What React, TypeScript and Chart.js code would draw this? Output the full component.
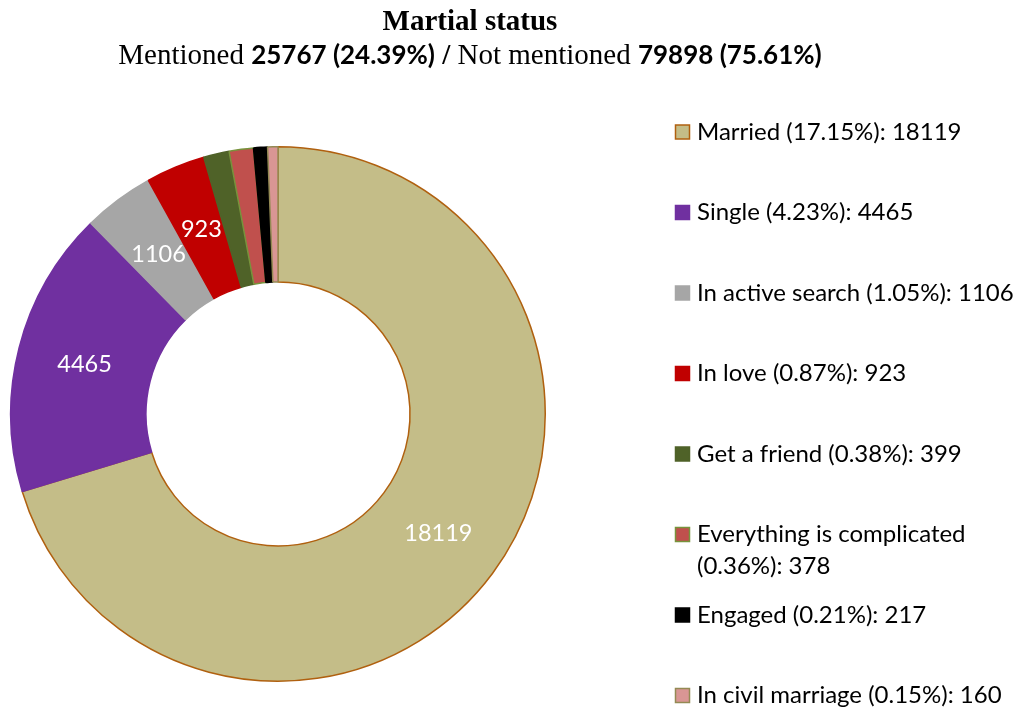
import React, { useEffect, useRef } from "react";
import { Chart, registerables } from "chart.js";

Chart.register(...registerables);

const categories = [
  "Married",
  "Single",
  "In active search",
  "In love",
  "Get a friend",
  "Everything is complicated",
  "Engaged",
  "In civil marriage",
];
const counts = [18119, 4465, 1106, 923, 399, 378, 217, 160];
const sharePercents = ["17.15%", "4.23%", "1.05%", "0.87%", "0.38%", "0.36%", "0.21%", "0.15%"];
const fillColors = ["#c4bd88", "#7030a0", "#a6a6a6", "#c00000", "#4f6228", "#c0504d", "#000000", "#d99694"];
const edgeColors = ["#b0600f", "#7030a0", "#a6a6a6", "#c00000", "#4f6228", "#77933c", "#000000", "#948a54"];
const titleText = "Martial status";
const mentionedText = "25767 (24.39%)";
const notMentionedText = "79898 (75.61%)";

const SERIF = "'Liberation Serif', 'Times New Roman', serif";
const SANS = "Lato, 'Open Sans', sans-serif";

const overlayPlugin = {
  id: "overlay",
  afterDraw(chart: any) {
    const ctx = chart.ctx as CanvasRenderingContext2D;
    const W = chart.width;
    ctx.save();
    // Title
    const cx = 470;
    ctx.fillStyle = "#000";
    ctx.textBaseline = "alphabetic";
    ctx.textAlign = "center";
    ctx.font = `bold 29px ${SERIF}`;
    ctx.fillText(titleText, cx, 30);
    // Subtitle (mixed fonts)
    const segs = [
      { t: "Mentioned ", f: `29px ${SERIF}` },
      { t: mentionedText, f: `bold 26px ${SANS}` },
      { t: " / ", f: `bold 29px ${SERIF}` },
      { t: "Not mentioned ", f: `29px ${SERIF}` },
      { t: notMentionedText, f: `bold 26px ${SANS}` },
    ];
    ctx.textAlign = "left";
    let total = 0;
    for (const s of segs) {
      ctx.font = s.f;
      total += ctx.measureText(s.t).width;
    }
    let x = cx - total / 2;
    for (const s of segs) {
      ctx.font = s.f;
      ctx.fillText(s.t, x, 64);
      x += ctx.measureText(s.t).width;
    }

    // Data labels
    const meta = chart.getDatasetMeta(0);
    const sum = counts.reduce((a, b) => a + b, 0);
    ctx.font = `23.5px ${SANS}`;
    ctx.fillStyle = "#ffffff";
    ctx.textAlign = "center";
    ctx.textBaseline = "middle";
    meta.data.forEach((arc: any, i: number) => {
      if (counts[i] / sum < 0.03) return;
      const p = arc.tooltipPosition();
      ctx.fillText(String(counts[i]), p.x, p.y);
    });

    // Legend
    const boxX = 675.5;
    const textX = 697;
    const firstY = 132;
    const step = 80.5;
    const lineH = 32;
    const box = 14;
    ctx.font = `24px ${SANS}`;
    ctx.textAlign = "left";
    ctx.textBaseline = "middle";
    const maxW = W - textX - 2;
    categories.forEach((name, i) => {
      const yc = firstY + i * step;
      ctx.fillStyle = fillColors[i];
      ctx.fillRect(boxX, yc - box / 2, box, box);
      ctx.strokeStyle = edgeColors[i];
      ctx.lineWidth = 1.5;
      ctx.strokeRect(boxX, yc - box / 2, box, box);
      const full = `${name} (${sharePercents[i]}): ${counts[i]}`;
      const words = full.split(" ");
      const lines: string[] = [];
      let cur = "";
      for (const w of words) {
        const trial = cur ? cur + " " + w : w;
        if (ctx.measureText(trial).width > maxW && cur) {
          lines.push(cur);
          cur = w;
        } else cur = trial;
      }
      if (cur) lines.push(cur);
      ctx.fillStyle = "#000";
      lines.forEach((ln, k) => ctx.fillText(ln, textX, yc + k * lineH));
    });
    ctx.restore();
  },
};

export default function App() {
  const ref = useRef<HTMLCanvasElement | null>(null);
  useEffect(() => {
    if (!ref.current) return;
    const chart = new Chart(ref.current, {
      type: "doughnut",
      data: {
        labels: categories,
        datasets: [
          {
            data: counts,
            backgroundColor: fillColors,
            borderColor: edgeColors,
            borderWidth: 1.5,
          },
        ],
      },
      options: {
        responsive: false,
        animation: false,
        devicePixelRatio: 1,
        cutout: "49.4%",
        layout: { padding: { left: 10, right: 478, top: 146, bottom: 29 } },
        plugins: {
          legend: { display: false },
          tooltip: { enabled: false },
          title: { display: false },
        },
      },
      plugins: [overlayPlugin],
    });
    return () => chart.destroy();
  }, []);
  return (
    <div style={{ position: "fixed", left: 0, top: 0, width: 1024, height: 711, background: "#fff" }}>
      <canvas ref={ref} width={1024} height={711} />
    </div>
  );
}
